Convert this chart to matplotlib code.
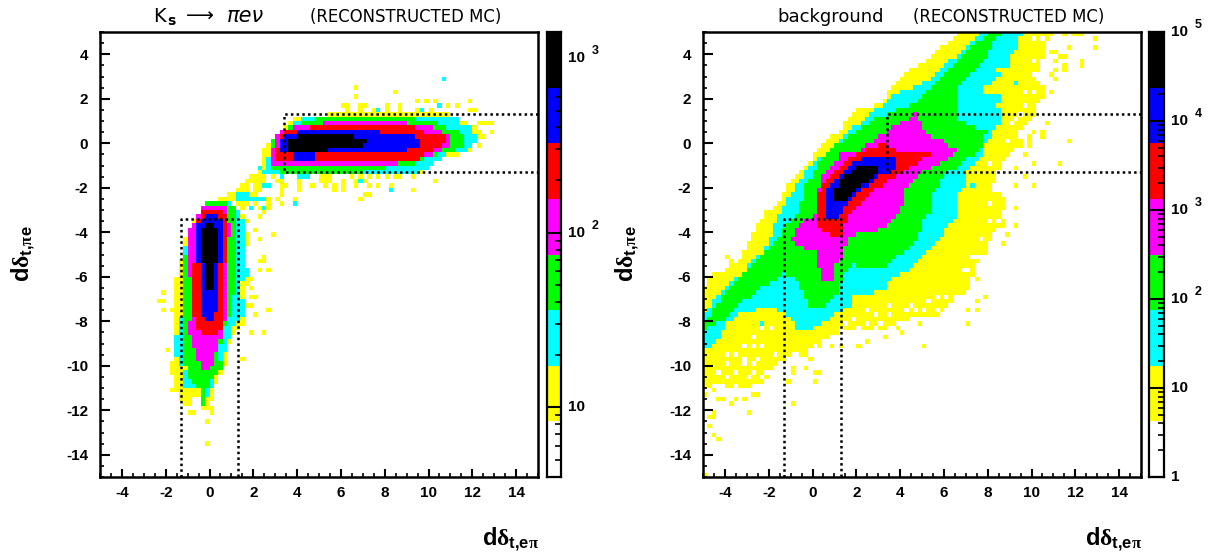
import numpy as np
import matplotlib
matplotlib.use("Agg")
import matplotlib.pyplot as plt
from matplotlib.colors import ListedColormap, BoundaryNorm
from matplotlib.path import Path
from matplotlib.ticker import MultipleLocator, LogLocator, NullFormatter, NullLocator

plt.rcParams["font.family"] = ["Liberation Sans"]
plt.rcParams["font.weight"] = "bold"
plt.rcParams["axes.unicode_minus"] = False
plt.rcParams["mathtext.fontset"] = "custom"
plt.rcParams["mathtext.rm"] = "Liberation Serif"
plt.rcParams["mathtext.bf"] = "Liberation Sans:bold"
plt.rcParams["mathtext.it"] = "Liberation Serif"

# palette bands, low to high
band_colors = ["white", "#ffff00", "#00ffff", "#00ff00", "#ff00ff", "#ff0000", "#0000ff", "black"]

# colour scale limits of the two panels (log10)
sig_log_levels = [0.6, 3.149]
bkg_log_levels = [0.0, 5.0]

# ---- signal panel: outlines of each band
sig_vert = {
    1: [(-0.15, -2.6), (-0.6, -3.3), (-1, -3.9), (-1.2, -4.65), (-1.4, -5.55), (-1.6, -6.3), (-1.6, -9.6),
        (-1.8, -9.9), (-1.8, -10.2), (-1.6, -10.8), (-1.8, -11), (-1.4, -11.4), (-1, -11.9), (-0.8, -11.9), (-0.8, -11.4),
        (-0.4, -11.4), (-0.4, -11.9), (-0.2, -11.9), (0.2, -11.4), (0.2, -10.95), (0.6, -10.35), (0.8, -9.75), (0.84, -8.85),
        (1.37, -8.4), (1.6, -8.0), (1.7, -7.5), (1.6, -6.75), (1.8, -6), (1.6, -5.25), (1.75, -4.2), (1.6, -3.45),
        (1.37, -3.0), (0.8, -2.4)],
    2: [(0, -2.7), (-0.4, -3.15), (-0.6, -3.75), (-1, -4.0), (-1.2, -5.1), (-1.2, -7.35), (-1.4, -8.1), (-1.6, -9.1),
        (-1.4, -9.9), (-1, -10), (-1.2, -10.6), (-1.2, -10.9), (-0.4, -11), (-0.4, -11.4), (0, -11.4), (0.2, -10.4),
        (0.5, -9.75), (0.76, -9.3), (1.0, -8.4), (1.2, -8), (1.6, -7.65), (1.4, -6.3), (1.8, -5.85), (1.5, -5.2),
        (1.5, -4.5), (1.6, -3.7), (1.3, -3), (0.8, -2.5)],
    3: [(-0.2, -2.6), (0.8, -2.6), (1.2, -3.0), (1.2, -6.2), (0.95, -7.6), (0.7, -8.3), (0.5, -9.0), (0.4, -9.5),
        (0.6, -9.9), (0.6, -10.1), (0.2, -10.4), (0, -10.9), (-0.2, -11), (-0.2, -11.9), (-0.4, -11.9), (-0.4, -11.1),
        (-0.8, -10.8), (-1, -10.4), (-1.2, -9.6), (-1.2, -5.5), (-0.9, -4.0), (-0.6, -3.3), (-0.4, -2.9)],
    4: [(0, -2.75), (0.8, -2.75), (0.8, -3.3), (1, -3.8), (0.8, -4.6), (0.8, -7.8), (0.6, -8.4), (0.4, -9.2),
        (0.2, -9.6), (0, -10.2), (-0.4, -10.2), (-0.6, -9.6), (-0.8, -9.0), (-1, -8.3), (-0.8, -7.6), (-0.8, -6.3),
        (-1, -5.6), (-1, -4.0), (-0.6, -3.4), (-0.4, -2.9)],
    5: [(-0.4, -3.0), (0.6, -3.0), (0.8, -3.4), (0.8, -5.0), (0.6, -6.0), (0.6, -8.2), (0.4, -8.7), (-0.4, -8.7),
        (-0.6, -8.2), (-0.8, -7.5), (-0.8, -5.8), (-0.6, -5.0), (-0.6, -3.6)],
    6: [(-0.2, -3.2), (0.4, -3.2), (0.6, -3.6), (0.6, -5.0), (0.4, -5.6), (0.4, -7.4), (0.2, -7.8), (0.2, -8.0),
        (-0.2, -8.0), (-0.4, -7.4), (-0.4, -5.8), (-0.6, -5.0), (-0.6, -3.8)],
    7: [(-0.2, -3.6), (0.2, -3.6), (0.4, -4.0), (0.4, -5.4), (0.2, -5.5), (0.2, -6.6), (-0.2, -6.6), (-0.2, -5.5),
        (-0.4, -5.4), (-0.4, -4.1)],
}
sig_horiz = {
    1: [(2.4, -1.45), (2.4, -0.3), (2.8, 0.1), (3.4, 0.8), (3.8, 1.1), (5.4, 1.3), (6, 1.35), (11, 1.35), (11.2, 1.2),
        (11.8, 0.9), (12.3, 0.6), (12.4, 0.2), (12, -0.1), (11.5, -0.2), (11.3, -0.5), (10.5, -0.7), (10, -1.1),
        (9.8, -1.4), (8, -1.45), (3, -1.45)],
    2: [(2.4, -1.4), (2.6, -0.9), (2.8, -0.3), (3, 0.2), (3.4, 0.6), (3.8, 0.95), (4.4, 1.15), (6, 1.25), (11.4, 1.25),
        (11.4, 1.0), (11.2, 0.8), (12, 0.75), (12.1, 0.4), (12.2, 0.1), (12, -0.1), (11.9, -0.3), (11.4, -0.45),
        (10.9, -0.5), (10.5, -0.7), (10, -1.1), (9.6, -1.3), (7, -1.5), (4.5, -1.5), (3.2, -1.4)],
    3: [(2.7, -1.1), (2.7, -0.4), (2.9, 0.1), (3.2, 0.4), (3.8, 0.8), (4.6, 1.0), (5, 1.15), (8.7, 1.2), (9.8, 1.05),
        (10.5, 0.85), (10.9, 0.7), (11.5, 0.45), (11.6, 0.1), (11.5, -0.2), (11, -0.4), (10.5, -0.5), (10, -0.55),
        (9.4, -0.95), (8, -1.1), (7, -1.3), (5, -1.3), (3.2, -1.3)],
    4: [(2.8, -0.8), (3, 0.3), (3.4, 0.6), (4, 0.8), (6.2, 1.0), (8.2, 1.0), (9.8, 0.8), (10.5, 0.6), (11.1, 0.2),
        (11, -0.1), (10.5, -0.4), (9.8, -0.6), (8.5, -0.95), (6, -1), (3, -1)],
    5: [(3, -0.7), (3.2, 0.2), (3.4, 0.5), (4, 0.6), (5, 0.8), (7, 0.8), (9.5, 0.7), (9.8, 0.5), (10.6, 0.4),
        (11, 0.2), (10.6, -0.1), (10, -0.4), (9.5, -0.7), (7, -0.7)],
    6: [(3.2, -0.5), (3.2, 0.15), (3.6, 0.4), (4.2, 0.55), (6.6, 0.6), (9.2, 0.4), (9.7, 0.15), (9.6, -0.1), (9, -0.3),
        (7, -0.4), (4.8, -0.45), (4.8, -0.7), (3.8, -0.7), (3.8, -0.5)],
    7: [(3.6, -0.45), (3.6, 0.15), (4.2, 0.4), (6.6, 0.4), (6.6, 0.15), (7.2, 0.15), (7.2, 0), (6.8, -0.2), (5.4, -0.2),
        (5.4, -0.45)],
}
sig_bridge_yellow = [(0.6, -2.4), (1.2, -2.1), (1.6, -1.7), (2.2, -1.3), (2.4, -1.0), (2.9, -1.3), (2.5, -1.7),
                     (2.1, -2.7), (1.4, -2.8)]

# isolated bins: (y, [x, ...])
sig_yellow_bins = [
    (2.47, [6.65]), (2.27, [8.45]), (2.07, [6.65]), (1.87, [9.5, 9.9, 10.3, 11.9]),
    (1.65, [6.1, 6.3, 6.9, 7.1, 8.1, 8.7, 10.9, 11.3]), (1.47, [6.3, 6.9, 7.5, 8.2, 8.7, 9.5, 10.2, 11.9, 12.1]),
    (0.9, [12.3, 12.5, 12.7, 12.9]), (0.5, [12.8]), (0.27, [12.3, 12.5]), (-0.1, [12.4]), (-0.4, [11.9]),
    (-1.55, [2.4, 2.9, 5.05, 5.27, 5.43, 6.5, 6.9, 7.25, 7.63, 8.0, 8.2, 8.4, 8.6, 8.77, 9.38]),
    (-1.73, [2.4, 3.1, 3.3, 4.06, 5.05, 5.27, 5.43, 6.03, 6.64, 7.1, 10.3]),
    (-1.95, [2.38, 3.3, 3.5, 4.06, 5.27, 5.65, 6.03, 6.64, 7.25, 7.63, 8.24, 3.35, 4.65, 4.05]),
    (-2.15, [2.38, 4.06, 5.65, 6.03, 9.3, 3.25, 5.7, 6.1, 4.05]), (-2.33, [3.3, 7.25, 7.2]),
    (-2.55, [2.7, 3.83, 6.87, 2.65, 3.05, 3.9]), (-2.75, [3.25, 2.7, 3.3]), (-2.9, [1.5, 2.65, 2.38]),
    (-3.1, [2.45, 2.6]), (-3.3, [2.3]), (-3.5, [1.7]), (-3.95, [2.05]), (-4.1, [2.85]), (-4.3, [2.3]),
    (-5.1, [2.47]), (-5.3, [2.3, 2.5]), (-5.7, [2.3, 2.65]), (-6.1, [1.9]), (-6.5, [1.9]), (-6.7, [-2.1]),
    (-6.9, [2.05, 1.9]), (-7.1, [-2.3, -2.1]), (-7.3, [1.7, 1.9]), (-7.5, [-2.1, -1.75, 2.65]), (-7.7, [2.05]),
    (-8.5, [1.9, 2.45]), (-8.9, [0.85]), (-9.35, [-1.9]), (-9.7, [1.5, 0.7]), (-12, [-0.3, -0.1, 0.1]),
    (-12.15, [-0.9, -0.7, 0.1]), (-12.5, [-0.15]), (-13.5, [-0.1]),
]
sig_cyan_bins = [(2.9, [10.7]), (1.65, [10.45]), (1.47, [7.7, 9.7]), (-1.55, [3.3, 4.06, 4.3, 4.5]), (-1.73, [6.87]),
                 (-1.95, [2.5, 2.7, 4.67]), (-2.15, [8.24]), (-2.3, [1.3, 1.5, 1.7]), (-2.5, [1.3, 1.5, 1.7, 1.9, 2.1, 2.3, 2.5]),
                 (-2.75, [3.9]), (-2.9, [1.9, 2.45]), (-1.15, [2.3, 2.5, 2.7, 2.9, 3.1])]
sig_empty_bins = [(-2.7, [1.9, 2.3, 1.1]), (-2.9, [2.1, 2.3]), (-1.9, [2.2, 1.9]), (-1.7, [2.4]), (-2.1, [2.5, 1.9])]

# ---- background panel
bkg_bands = {
    1: [(-5, -6.5), (-4.9, -6.45), (-4.6, -5.85), (-4, -5.7), (-3.2, -5.1), (-2.8, -4.05), (-2.4, -3.54), (-2.1, -3.08),
        (-1.4, -2.63), (-1.18, -1.88), (-0.57, -1.28), (-0.1, -0.83), (0.04, -0.46), (0.57, 0.07), (1.4, 0.74),
        (1.56, 1.1), (2, 1.49), (3.15, 1.79), (3.46, 2.3), (4.14, 3.14), (4.75, 3.51), (5.59, 3.96), (5.82, 4.41),
        (6.2, 4.34), (6.58, 5), (11.1, 5), (10.7, 4.56), (10.3, 3.2), (9.9, 3.14), (10.7, 2.46), (10.5, 2), (10.1, 1.79),
        (10.3, 1.27), (9.9, 0.96), (9.47, 0.52), (9.55, -0.08), (9, -0.46), (8.56, -0.98), (8.4, -1.43), (8.25, -2.03),
        (8.8, -2.48), (8.64, -3.23), (8.87, -3.68), (8.25, -4), (7.95, -4.9), (7.7, -4.95), (7.1, -6.6), (6.35, -7.05),
        (5.9, -7.7), (4.07, -7.95), (3.2, -8.4), (1.2, -8.47), (-0.2, -9.15), (-0.04, -9.8), (-0.8, -9.44),
        (-1.85, -10.04), (-2.17, -10.8), (-3.6, -11), (-4.45, -10.8), (-4.9, -11.1), (-5, -11.1)],
    2: [(-5, -7.7), (-4.9, -7.65), (-4.6, -7.2), (-3.85, -6.3), (-3.2, -5.85), (-2.5, -5), (-2.25, -4.88), (-1.56, -3.38),
        (-1.4, -2.85), (-0.8, -2.03), (-0.42, -1.43), (-0.04, -0.98), (0.57, -0.46), (1.18, 0.14), (1.86, 0.67), (2.4, 1.1),
        (3.15, 1.71), (3.76, 2.16), (4.98, 2.69), (5.36, 2.91), (5.82, 3.29), (6.6, 3.96), (7.35, 4.56), (7.57, 5),
        (9.55, 5), (9.4, 4.26), (9, 4.04), (8.94, 3.36), (8.4, 3.5), (8.56, 3), (7.8, 2.46), (7.95, 2.16), (8.56, 2.16),
        (8.48, 1.71), (8.56, 0.96), (8.3, 0.52), (7.9, 0), (7.9, -0.46), (7.35, -0.98), (6.96, -1.43), (6.96, -2.03),
        (6.58, -2.33), (6.66, -3.23), (6.2, -3.68), (5.9, -4.28), (5.37, -4.73), (4.37, -5.7), (3.39, -6.22), (3.39, -6.6),
        (1.8, -6.9), (1.8, -7.47), (1.4, -7.5), (0.57, -8), (-0.19, -8.47), (-0.65, -8.4), (-1, -7.95), (-1.33, -7.65),
        (-1.7, -7.42), (-2.63, -7.5), (-3.4, -7.65), (-4, -8.17), (-4.3, -8.85), (-4.9, -9.3), (-5, -9.3)],
    3: [(-5, -8.4), (-4.9, -8.0), (-4.6, -7.57), (-4, -6.75), (-3.4, -6.15), (-2.5, -5.25), (-1.8, -4.43), (-0.57, -3.08),
        (-0.42, -2.1), (0.42, -0.68), (1.18, 0), (2, 0.5), (2.77, 1.1), (4.6, 1.79), (5, 2.16), (5.67, 2.76), (6.2, 3.36),
        (6.96, 4.1), (7.7, 4.7), (8.2, 5), (8.8, 5), (8.18, 4.41), (7.95, 3.81), (7.2, 3.14), (6.55, 2.46), (6.55, 1.94),
        (6.7, 1.27), (6.58, 1.04), (7.34, 0.74), (7.95, 0.52), (7.8, 0), (7.57, -0.38), (6.9, -0.83), (6.28, -1.28),
        (5.97, -1.58), (5.37, -2.33), (5.36, -3.08), (4.98, -3.68), (4.75, -4.43), (4.15, -4.88), (3.3, -5.62), (2.17, -5.62),
        (1.8, -5.43), (1.33, -6), (1.18, -6.6), (0.95, -7.05), (0.42, -7.42), (-0.19, -7.35), (-0.42, -6.67), (-0.8, -6.07),
        (-1.3, -5.85), (-1.87, -6.22), (-2.63, -6.67), (-3.4, -7.35), (-4, -7.87), (-4.6, -8.17), (-5, -8.4)],
    4: [(-1.0, -4.4), (-0.5, -3.5), (0.1, -3.2), (0.2, -2.4), (0.4, -1.5), (0.9, -1.0), (1.4, -0.3), (2.17, -0.3), (2.77, 0.14),
        (3.76, 0.74), (4.75, 1.34), (4.98, 0.96), (5.2, 0.37), (5.97, 0.14), (6.6, -0.35), (6.2, -0.8), (5.6, -1.0),
        (4.98, -1.28), (4.6, -1.66), (4.15, -2.03), (4.15, -2.63), (4, -3), (3.6, -3.53), (3.08, -3.9), (2, -4.05),
        (1.56, -4.28), (1.4, -5), (1.16, -5.25), (0.9, -6.2), (0.5, -6.2), (0.2, -5.2), (0.1, -4.8), (-0.3, -4.7)],
    5: [(0.14, -3.53), (0.14, -3), (0.39, -1.88), (0.95, -1.28), (1.56, -0.68), (3.15, -0.01), (3.76, -0.31), (5.36, -0.46),
        (4.9, -0.83), (3.99, -1.43), (3.23, -1.8), (2.62, -2.33), (1.94, -2.93), (1.56, -3.45), (1.33, -4.2), (0.87, -4.2),
        (0.14, -3.75)],
    6: [(0.57, -3.38), (0.57, -2.26), (1.18, -1.43), (2.17, -0.68), (3.76, -0.68), (3.76, -1.28), (3.15, -1.43), (2.77, -1.8),
        (2.01, -2.26), (1.56, -2.78), (1.18, -3.38)],
    7: [(0.98, -2.7), (0.98, -2.03), (1.4, -1.58), (2.01, -1.06), (3.15, -1.0), (2.77, -1.66), (2.01, -2.03), (1.4, -2.63)],
}
bkg_yellow_bins = [
    (4.8, [11.45, 11.95, 12.15, 12.3]), (4.63, [12.8]), (4.26, [11.7, 12.8]), (4.03, [10.85, 11.05]), (3.9, [11.3, 11.45]),
    (3.65, [11.05, 12.25]), (3.45, [11.45, 12.25]), (3.3, [11.05, 11.45]), (3.05, [10.85]), (2.85, [11.05]), (2.27, [10.85]),
    (0.9, [10.65]), (0.45, [10.45, 10.1]), (0.25, [10.45, 9.85]), (0.05, [9.85, 11.65]), (-0.2, [9.85]), (-0.5, [9.65]),
    (-0.95, [10.05, 11.25]), (-1.15, [9.25]), (-1.55, [9.65]), (-1.95, [9.25, 10.2]), (-2.95, [9.25]), (-3.75, [9.25]),
    (-4.15, [8.85]), (-4.55, [8.65]), (-6.15, [7.55, 6.65]), (-6.3, [7.1]), (-6.5, [7.1]), (-6.9, [7.9]), (-7.1, [7.5]),
    (-7.55, [7.1, 7.5]), (-8.15, [4.85, 7.1]), (-8.3, [3.85]), (-8.5, [4.15]), (-8.7, [3.25]), (-8.9, [2.5]),
    (-9.15, [0.3, 0.85, 1.25, 2.05, 5.1]), (-9.7, [-0.1]), (-10.15, [-0.35, -0.9]), (-10.35, [-0.9, 0.1, 0.3]),
    (-10.7, [-1.1, 0.05]), (-11.1, [-4.6]), (-11.3, [-4.85, -2.8, -2.6, -2.5]), (-11.55, [-4.3, -4.1, -3.5, -3.1]),
    (-11.75, [-3.7, -0.9]), (-12.15, [-4.5, -2.9]), (-12.35, [-4.8, -4.6]), (-12.75, [-4.7]), (-13.1, [-4.5]), (-13.3, [-4.3]),
    (-14.9, [-4.9]), (-5.1, [-3.9]), (-5.3, [-3.7]),
]
bkg_cyan_bins = [(2.7, [9.25]), (-1.95, [7.25]), (-8.05, [-2.3])]
bkg_empty_bins = [
    (2.3, [10.1, 9.6]), (1.4, [9.45]), (1.05, [9.25]), (0.8, [9.1]), (0.05, [8.85]), (-0.85, [8.1]), (-2.15, [8.25]),
    (-2.7, [8.1]), (-7.05, [5.3]), (-7.3, [4.4]), (-7.35, [3.6]), (-7.4, [5.75]), (-7.5, [2.4]), (-7.7, [2.95]),
    (-7.8, [3.6]), (-7.85, [1.95]), (-8.25, [2.85]), (-8.3, [-2.3, -1.95]), (-8.55, [1.95]), (-8.7, [-2.7]),
    (-9.1, [-3.1, -2.6, -2.4]), (-9.5, [-4]), (-9.6, [-3.45, -1.8]), (-9.7, [-3.1, -2.5]), (-10, [-4, -3.1, -2.7]),
    (-10.3, [-4.3, -3.5, -2.8, -2.1]), (-10.6, [-3.9, -3.0, -2.4]), (-10.9, [-4.2, -3.5]),
    (-6.9, [6.5, 6.1, 5.7]), (-7.6, [5.1, 4.7, 4.3]), (-8.1, [2.5, 3.1, 1.5]), (-8.35, [1.3, 2.1]), (-3.5, [8.5, 8.2]),
    (-4.3, [7.7]), (-5.1, [7.3, 7.5]), (-5.7, [7.1, 6.9]), (3.7, [10.1]), (4.6, [10.5, 10.1]), (1.6, [9.7]),
]

# dotted selection boxes, same in both panels
cut_dt_high = 1.3
cut_dt_low = -1.3
cut_corner_x = 3.4
cut_corner_y = -3.4

x_ticks = list(range(-4, 16, 2))
y_ticks = list(range(-14, 6, 2))


def px(x, y):
    return x / 1215, 1 - y / 558


def add_axes_px(left, top, right, bottom):
    return fig.add_axes([left / 1215, 1 - bottom / 558, (right - left) / 1215, (bottom - top) / 558])


def fillPolygon(grid, xc, yc, outline, band):
    pts = np.column_stack([xc.ravel(), yc.ravel()])
    inside = Path(outline + [outline[0]]).contains_points(pts).reshape(xc.shape)
    grid[inside] = band


def fillBins(grid, rows, band):
    for y, xs in rows:
        for x in xs:
            i = int(np.clip(np.floor((y + 15) / 0.2), 0, 99))
            j = int(np.clip(np.floor((x + 5) / 0.2), 0, 99))
            grid[i, j] = band


def drawPanel(ax, grid):
    edges_x = np.linspace(-5, 15, 101)
    edges_y = np.linspace(-15, 5, 101)
    cmap = ListedColormap(band_colors)
    norm = BoundaryNorm(np.arange(-0.5, 8.5), 8)
    ax.pcolormesh(edges_x, edges_y, grid, cmap=cmap, norm=norm, antialiased=False, linewidth=0)
    dots = dict(color="black", lw=1.8, ls=(0, (1.0, 1.28)), zorder=3)
    ax.plot([15, cut_corner_x, cut_corner_x, 15], [cut_dt_high, cut_dt_high, cut_dt_low, cut_dt_low], **dots)
    ax.plot([cut_dt_low, cut_dt_low, cut_dt_high, cut_dt_high], [-15, cut_corner_y, cut_corner_y, -15], **dots)
    ax.set_xlim(-5, 15)
    ax.set_ylim(-15, 5)
    ax.set_xticks(x_ticks)
    ax.set_yticks(y_ticks)
    ax.xaxis.set_minor_locator(MultipleLocator(0.5))
    ax.yaxis.set_minor_locator(MultipleLocator(0.5))
    ax.tick_params(which="major", direction="in", length=6, width=1.5, labelsize=11)
    ax.tick_params(which="minor", direction="in", length=3, width=1.2)
    ax.tick_params(axis="x", which="major", pad=6.5)
    ax.tick_params(axis="y", which="major", pad=8.5, length=7)
    for s in ax.spines.values():
        s.set_linewidth(1.8)
        s.set_zorder(5)


def drawScale(cax, lo, hi, decades, labels):
    levels = np.logspace(lo, hi, 9)
    cmap = ListedColormap(band_colors)
    cax.pcolormesh([0, 1], levels, np.arange(8).reshape(-1, 1), cmap=cmap, vmin=-0.5, vmax=7.5, antialiased=False)
    cax.set_yscale("log")
    cax.set_ylim(10 ** lo, 10 ** hi)
    cax.set_xlim(0, 1)
    cax.xaxis.set_major_locator(NullLocator())
    cax.yaxis.tick_right()
    cax.set_yticks(decades)
    cax.yaxis.set_minor_locator(LogLocator(base=10, subs=range(2, 10), numticks=12))
    cax.yaxis.set_minor_formatter(NullFormatter())
    cax.set_yticklabels([])
    cax.tick_params(which="major", direction="in", length=10.5, width=1.5)
    cax.tick_params(which="minor", direction="in", length=4.5, width=1.2)
    for s in cax.spines.values():
        s.set_linewidth(1.6)
        s.set_zorder(5)
    for val, (base, sup) in zip(decades, labels):
        cax.annotate(base, (1, val), xycoords=("axes fraction", "data"), xytext=(5, 0), textcoords="offset points",
                     ha="left", va="center", fontsize=11, annotation_clip=False)
        if sup:
            cax.annotate(sup, (1, val), xycoords=("axes fraction", "data"), xytext=(22, 5), textcoords="offset points",
                         ha="left", va="center", fontsize=9, annotation_clip=False)


bin_x = -4.9 + 0.2 * np.arange(100)
bin_y = -14.9 + 0.2 * np.arange(100)
xc, yc = np.meshgrid(bin_x, bin_y)

sig_grid = np.zeros((100, 100))
fillPolygon(sig_grid, xc, yc, sig_bridge_yellow, 1)
fillBins(sig_grid, sig_empty_bins, 0)
fillBins(sig_grid, sig_cyan_bins, 2)
for band in range(1, 8):
    fillPolygon(sig_grid, xc, yc, sig_vert[band], band)
    fillPolygon(sig_grid, xc, yc, sig_horiz[band], band)
fillBins(sig_grid, sig_yellow_bins, 1)

bkg_grid = np.zeros((100, 100))
for band in range(1, 8):
    fillPolygon(bkg_grid, xc, yc, bkg_bands[band], band)
fillBins(bkg_grid, bkg_yellow_bins, 1)
fillBins(bkg_grid, bkg_empty_bins, 0)
fillBins(bkg_grid, bkg_cyan_bins, 2)

fig = plt.figure(figsize=(12.15, 5.58), dpi=100, facecolor="white")

ax1 = add_axes_px(100, 32, 538, 477)
ax2 = add_axes_px(703, 32, 1141, 477)
drawPanel(ax1, sig_grid)
drawPanel(ax2, bkg_grid)

cax1 = add_axes_px(547, 32, 561, 477)
cax2 = add_axes_px(1149, 32, 1164, 477)
drawScale(cax1, sig_log_levels[0], sig_log_levels[1], [10, 100, 1000], [("10", ""), ("10", "2"), ("10", "3")])
drawScale(cax2, bkg_log_levels[0], bkg_log_levels[1], [1, 10, 100, 1000, 10000, 100000],
          [("1", ""), ("10", ""), ("10", "2"), ("10", "3"), ("10", "4"), ("10", "5")])

# axis titles
xlab = r"$\mathbf{d}\mathrm{\delta}_{\mathbf{t{,}e}\mathrm{\pi}}$"
ylab = r"$\mathbf{d}\mathrm{\delta}_{\mathbf{t{,}}\mathrm{\pi}\mathbf{e}}$"
fig.text(*px(482, 545), xlab, fontsize=17, ha="left", va="baseline")
fig.text(*px(1085, 545), xlab, fontsize=17, ha="left", va="baseline")
fig.text(*px(37, 282), ylab, fontsize=17, rotation=90, ha="right", va="bottom")
fig.text(*px(641, 282), ylab, fontsize=17, rotation=90, ha="right", va="bottom")

# panel titles
thin = dict(family="DejaVu Sans", weight="normal", va="baseline", color="black")
fig.text(*px(153, 22), "K", fontsize=14, **thin)
fig.text(*px(167, 25), "s", fontsize=10, family="DejaVu Sans", weight="bold", va="baseline")
fig.text(*px(186, 22), "\u27f6", fontsize=14, **thin)
fig.text(*px(227, 22), "\u03c0e\u03bd", fontsize=15, style="italic", family="DejaVu Sans", weight="normal", va="baseline")
fig.text(*px(310, 22), "(RECONSTRUCTED MC)", fontsize=11.9, **thin)
fig.text(*px(777, 22), "background", fontsize=13, **thin)
fig.text(*px(913, 22), "(RECONSTRUCTED MC)", fontsize=11.9, **thin)

fig.savefig("out.png", dpi=100, facecolor="white")
